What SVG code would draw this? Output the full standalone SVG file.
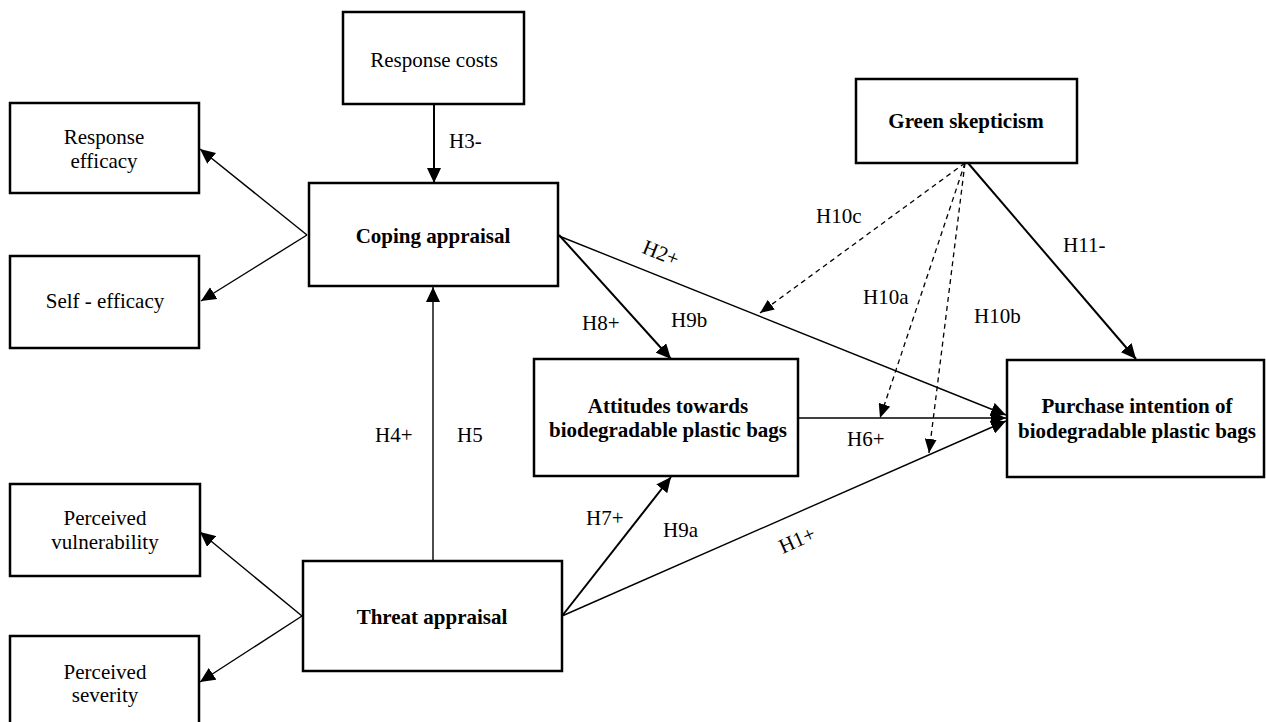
<svg xmlns="http://www.w3.org/2000/svg" width="1266" height="722" viewBox="0 0 1266 722">
<style>
.box{fill:#fff;stroke:#000;stroke-width:2.5}
.t{font-family:"Liberation Serif","Times New Roman",serif;font-size:21px;fill:#000;text-anchor:middle}
.b{font-weight:bold}
.l{font-family:"Liberation Serif","Times New Roman",serif;font-size:21px;fill:#000}
.c{fill:none;stroke:#000;stroke-width:1.4}
.ct{fill:none;stroke:#000;stroke-width:2}
.d{fill:none;stroke:#000;stroke-width:1.3;stroke-dasharray:5 4}
</style>
<defs>
<marker id="ah" markerUnits="userSpaceOnUse" markerWidth="16" markerHeight="14" refX="15" refY="7" orient="auto">
<path d="M0,0 L15,7 L0,14 Z" fill="#000"/>
</marker>
<marker id="ahs" markerUnits="userSpaceOnUse" markerWidth="15" markerHeight="12" refX="14" refY="6" orient="auto">
<path d="M0,0 L14,6 L0,12 Z" fill="#000"/>
</marker>
</defs>
<rect width="1266" height="722" fill="#fff"/>
<g id="connectors">
<line class="ct" x1="434" y1="104" x2="434" y2="183" marker-end="url(#ah)"/>
<line class="c" x1="307" y1="235" x2="200" y2="149" marker-end="url(#ah)"/>
<line class="c" x1="307" y1="235" x2="201" y2="301" marker-end="url(#ah)"/>
<line class="c" x1="302" y1="616" x2="200" y2="532" marker-end="url(#ah)"/>
<line class="c" x1="302" y1="616" x2="200" y2="682" marker-end="url(#ah)"/>
<line class="c" x1="433" y1="561" x2="433" y2="287" marker-end="url(#ah)"/>
<line class="ct" x1="559" y1="235" x2="671" y2="359" marker-end="url(#ah)"/>
<line class="ct" x1="562" y1="616" x2="671" y2="477" marker-end="url(#ah)"/>
<line class="c" x1="559" y1="236" x2="1006" y2="415" marker-end="url(#ah)"/>
<line class="c" x1="562" y1="616" x2="1006" y2="421" marker-end="url(#ah)"/>
<line class="c" x1="798" y1="418" x2="1006" y2="418" marker-end="url(#ah)"/>
<line class="ct" x1="968" y1="163" x2="1136" y2="359" marker-end="url(#ah)"/>
<line class="d" x1="965" y1="163" x2="760" y2="313" marker-end="url(#ahs)"/>
<line class="d" x1="965" y1="163" x2="880" y2="418" marker-end="url(#ahs)"/>
<line class="d" x1="965" y1="163" x2="929" y2="453" marker-end="url(#ahs)"/>
<text class="l" x="449" y="148">H3-</text>
<text class="l" x="582" y="330">H8+</text>
<text class="l" x="671" y="327">H9b</text>
<text class="l" x="816" y="223">H10c</text>
<text class="l" x="863" y="304">H10a</text>
<text class="l" x="974" y="323">H10b</text>
<text class="l" x="1063" y="252">H11-</text>
<text class="l" x="375" y="442">H4+</text>
<text class="l" x="457" y="442">H5</text>
<text class="l" x="586" y="525">H7+</text>
<text class="l" x="663" y="537">H9a</text>
<text class="l" x="847" y="446">H6+</text>
<text class="t" x="661" y="260" transform="rotate(22 661 253)">H2+</text>
<text class="t" x="797" y="547" transform="rotate(-24 797 540)">H1+</text>
</g>
<g id="response-costs">
<rect class="box" x="343" y="12" width="181" height="92"/>
<text class="t" x="434" y="67">Response costs</text>
</g>
<g id="response-efficacy">
<rect class="box" x="10" y="103" width="189" height="90"/>
<text class="t" x="104" y="144">Response</text>
<text class="t" x="104" y="168">efficacy</text>
</g>
<g id="coping-appraisal">
<rect class="box" x="309" y="183" width="249" height="103"/>
<text class="t b" x="433" y="243">Coping appraisal</text>
</g>
<g id="self-efficacy">
<rect class="box" x="10" y="256" width="189" height="92"/>
<text class="t" x="105" y="308">Self - efficacy</text>
</g>
<g id="green-skepticism">
<rect class="box" x="856" y="79" width="221" height="84"/>
<text class="t b" x="966" y="128">Green skepticism</text>
</g>
<g id="attitudes">
<rect class="box" x="534" y="359" width="264" height="117"/>
<text class="t b" x="668" y="413">Attitudes towards</text>
<text class="t b" x="668" y="437">biodegradable plastic bags</text>
</g>
<g id="purchase-intention">
<rect class="box" x="1007" y="360" width="257" height="117"/>
<text class="t b" x="1137" y="413">Purchase intention of</text>
<text class="t b" x="1137" y="438">biodegradable plastic bags</text>
</g>
<g id="perceived-vulnerability">
<rect class="box" x="10" y="484" width="190" height="92"/>
<text class="t" x="105" y="525">Perceived</text>
<text class="t" x="105" y="549">vulnerability</text>
</g>
<g id="threat-appraisal">
<rect class="box" x="303" y="561" width="259" height="110"/>
<text class="t b" x="432" y="624">Threat appraisal</text>
</g>
<g id="perceived-severity">
<rect class="box" x="10" y="636" width="189" height="92"/>
<text class="t" x="105" y="679">Perceived</text>
<text class="t" x="105" y="702">severity</text>
</g>
</svg>
